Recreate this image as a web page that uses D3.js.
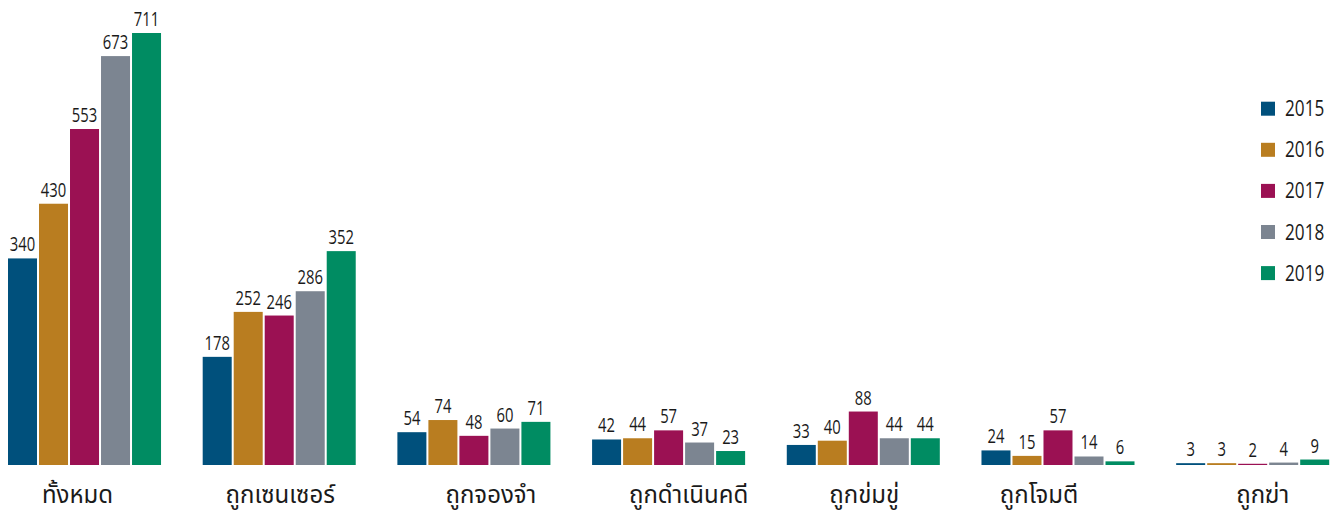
<!DOCTYPE html>
<html>
<head>
<meta charset="utf-8">
<script src="https://cdn.jsdelivr.net/npm/d3@7"></script>
<style>
  html, body { margin: 0; padding: 0; background: #fff; }
  svg { display: block; }
  text { font-family: "Open Sans", "Noto Sans Thai", "Noto Sans", sans-serif; fill: #1a1a1a; }
</style>
</head>
<body>
<svg id="chart" width="1335" height="513"></svg>
<script>
const categories = ["ทั้งหมด", "ถูกเซนเซอร์", "ถูกจองจำ", "ถูกดำเนินคดี", "ถูกข่มขู่", "ถูกโจมตี", "ถูกฆ่า"];
const years = ["2015", "2016", "2017", "2018", "2019"];
const v2015 = [340, 178, 54, 42, 33, 24, 3];
const v2016 = [430, 252, 74, 44, 40, 15, 3];
const v2017 = [553, 246, 48, 57, 88, 57, 2];
const v2018 = [673, 286, 60, 37, 44, 14, 4];
const v2019 = [711, 352, 71, 23, 44, 6, 9];
const seriesValues = [v2015, v2016, v2017, v2018, v2019];
const colors = ["#00507c", "#b97d20", "#9b1153", "#7c8591", "#008c62"];
// small horizontal nudges of the category labels, as placed in the original
const labelNudge = [-7, 1, 17, 20, 1, -19, 10];

const svg = d3.select("#chart");
const baseY = 465;

const x0 = d3.scaleBand().domain(categories).range([8, 1329.2]).paddingInner(0.214).paddingOuter(0);
const x1 = d3.scaleBand().domain(years).range([0, x0.bandwidth()]).paddingInner(0.0645).paddingOuter(0);
const y = d3.scaleLinear().domain([0, 711]).range([baseY, 33]);
const color = d3.scaleOrdinal().domain(years).range(colors);

const rows = categories.map((c, i) => ({ cat: c, vals: years.map((yr, k) => ({ year: yr, value: seriesValues[k][i] })) }));

const groups = svg.append("g").selectAll("g").data(rows).join("g")
  .attr("transform", d => `translate(${x0(d.cat)},0)`);

groups.selectAll("rect").data(d => d.vals).join("rect")
  .attr("x", d => x1(d.year))
  .attr("y", d => y(d.value))
  .attr("width", x1.bandwidth())
  .attr("height", d => baseY - y(d.value))
  .attr("fill", d => color(d.year));

groups.selectAll("text.val").data(d => d.vals).join("text")
  .attr("class", "val")
  .attr("transform", d => `translate(${x1(d.year) + x1.bandwidth() / 2},${y(d.value) - 7}) scale(0.76,1)`)
  .attr("text-anchor", "middle")
  .style("font-size", "19.5px")
  .text(d => d.value);

// category axis labels
const xAxis = d3.axisBottom(x0).tickSize(0).tickPadding(0);
const ax = svg.append("g").attr("transform", `translate(0,${baseY})`).call(xAxis);
ax.select(".domain").remove();
ax.selectAll("text")
  .attr("y", 38)
  .attr("dy", 0)
  .attr("x", (d, i) => labelNudge[i])
  .style("font-size", "24px")
  .style("font-family", "\"Noto Sans Thai\", \"Noto Sans\", sans-serif")
  .attr("fill", "#1a1a1a");

// legend
const legend = svg.append("g").selectAll("g").data(years).join("g")
  .attr("transform", (d, i) => `translate(1261,${108.7 + i * 41.1})`);
legend.append("rect").attr("x", 0).attr("y", -7).attr("width", 14).attr("height", 14).attr("fill", d => color(d));
legend.append("text")
  .attr("transform", "translate(24,7.5) scale(0.8,1)")
  .style("font-size", "21.5px")
  .text(d => d);
</script>
</body>
</html>
